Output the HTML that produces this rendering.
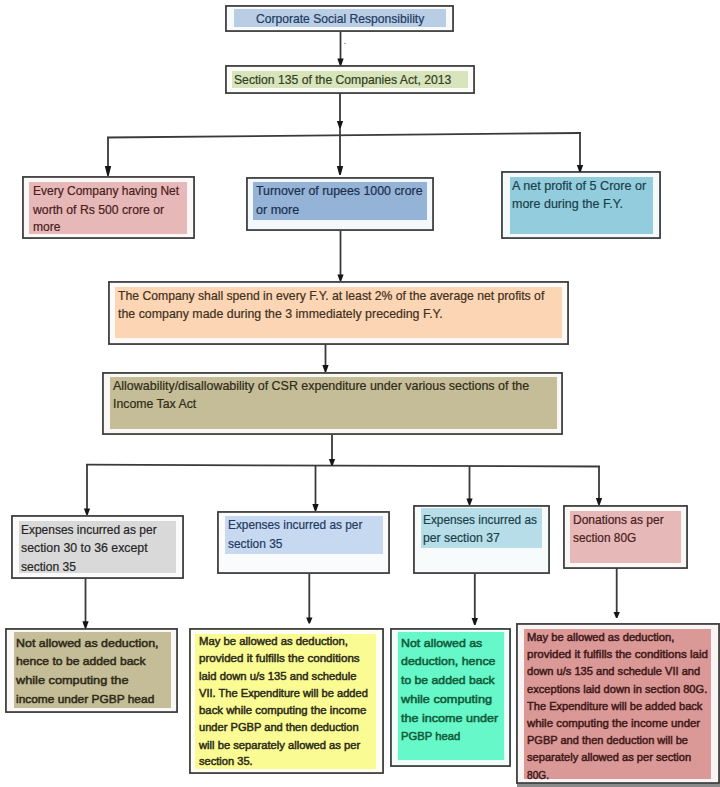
<!DOCTYPE html>
<html><head><meta charset="utf-8"><style>
html,body{margin:0;padding:0;background:#fff;}
body{width:720px;height:787px;position:relative;overflow:hidden;font-family:"Liberation Sans",sans-serif;}
.o{position:absolute;box-sizing:border-box;background:#fff;}
.i{position:absolute;}
.t{position:absolute;white-space:pre;font-weight:normal;transform-origin:0 0;line-height:20px;height:20px;}
svg{position:absolute;left:0;top:0;}
</style></head><body>

<div class="o" style="left:225px;top:5px;width:229px;height:27px;background:#f8fafc"></div>
<div class="i" style="left:234px;top:9px;width:212px;height:18px;background:#b9cde5"></div>
<div class="t" style="left:255.6px;top:8.57px;font-size:12.2px;color:#1f3a5f;-webkit-text-stroke:0.2px #1f3a5f;transform:scaleX(0.9934)">Corporate Social Responsibility</div>
<div class="o" style="left:225px;top:65px;width:250px;height:29px;background:#fbfcf8"></div>
<div class="i" style="left:232px;top:71px;width:236px;height:17px;background:#d8e4bc"></div>
<div class="t" style="left:234.2px;top:70.27px;font-size:12.2px;color:#333d22;-webkit-text-stroke:0.2px #333d22;transform:scaleX(0.9991)">Section 135 of the Companies Act, 2013</div>
<div class="o" style="left:22px;top:176px;width:173px;height:63px;background:#fcf8f7"></div>
<div class="i" style="left:29px;top:182px;width:158px;height:52px;background:#e6b9b8"></div>
<div class="t" style="left:32.5px;top:180.77px;font-size:12.2px;color:#4a2020;-webkit-text-stroke:0.2px #4a2020;transform:scaleX(0.9849)">Every Company having Net</div>
<div class="t" style="left:32.5px;top:199.52px;font-size:12.2px;color:#4a2020;-webkit-text-stroke:0.2px #4a2020;transform:scaleX(1.0030)">worth of Rs 500 crore or</div>
<div class="t" style="left:32.5px;top:216.77px;font-size:12.2px;color:#4a2020;-webkit-text-stroke:0.2px #4a2020;transform:scaleX(0.9895)">more</div>
<div class="o" style="left:246px;top:177px;width:188px;height:54px;background:#f4f7fb"></div>
<div class="i" style="left:253px;top:182px;width:174px;height:38px;background:#95b3d7"></div>
<div class="t" style="left:256.0px;top:180.77px;font-size:12.2px;color:#1a2f4d;-webkit-text-stroke:0.2px #1a2f4d;transform:scaleX(1.0145)">Turnover of rupees 1000 crore</div>
<div class="t" style="left:256.0px;top:199.77px;font-size:12.2px;color:#1a2f4d;-webkit-text-stroke:0.2px #1a2f4d;transform:scaleX(1.0302)">or more</div>
<div class="o" style="left:501px;top:171px;width:160px;height:68px;background:#f4fafb"></div>
<div class="i" style="left:510px;top:177px;width:143px;height:57px;background:#93cddd"></div>
<div class="t" style="left:511.7px;top:175.77px;font-size:12.2px;color:#1a3f4a;-webkit-text-stroke:0.2px #1a3f4a;transform:scaleX(1.0316)">A net profit of 5 Crore or</div>
<div class="t" style="left:511.7px;top:194.07px;font-size:12.2px;color:#1a3f4a;-webkit-text-stroke:0.2px #1a3f4a;transform:scaleX(1.0252)">more during the F.Y.</div>
<div class="o" style="left:108px;top:281px;width:461px;height:64px;background:#fefaf7"></div>
<div class="i" style="left:115px;top:287px;width:447px;height:51px;background:#fcd5b5"></div>
<div class="t" style="left:118.3px;top:285.77px;font-size:12.2px;color:#3f3020;-webkit-text-stroke:0.2px #3f3020;transform:scaleX(1.0009)">The Company shall spend in every F.Y. at least 2% of the average net profits of</div>
<div class="t" style="left:118.3px;top:304.07px;font-size:12.2px;color:#3f3020;-webkit-text-stroke:0.2px #3f3020;transform:scaleX(1.0161)">the company made during the 3 immediately preceding F.Y.</div>
<div class="o" style="left:102px;top:372px;width:461px;height:63px;background:#f9f8f4"></div>
<div class="i" style="left:110px;top:377px;width:447px;height:52px;background:#c4bd97"></div>
<div class="t" style="left:112.7px;top:375.77px;font-size:12.2px;color:#2f2b18;-webkit-text-stroke:0.2px #2f2b18;transform:scaleX(1.0223)">Allowability/disallowability of CSR expenditure under various sections of the</div>
<div class="t" style="left:112.7px;top:394.07px;font-size:12.2px;color:#2f2b18;-webkit-text-stroke:0.2px #2f2b18;transform:scaleX(1.0097)">Income Tax Act</div>
<div class="o" style="left:11px;top:515px;width:173px;height:64px;background:#fbfbfb"></div>
<div class="i" style="left:19px;top:521px;width:157px;height:52px;background:#d9d9d9"></div>
<div class="t" style="left:21.2px;top:519.52px;font-size:12.2px;color:#262626;-webkit-text-stroke:0.2px #262626;transform:scaleX(0.9813)">Expenses incurred as per</div>
<div class="t" style="left:21.2px;top:537.77px;font-size:12.2px;color:#262626;-webkit-text-stroke:0.2px #262626;transform:scaleX(1.0103)">section 30 to 36 except</div>
<div class="t" style="left:21.2px;top:556.77px;font-size:12.2px;color:#262626;-webkit-text-stroke:0.2px #262626;transform:scaleX(0.9890)">section 35</div>
<div class="o" style="left:217px;top:511px;width:173px;height:63px;background:#f9fbfd"></div>
<div class="i" style="left:225px;top:516px;width:158px;height:38px;background:#c6d9f1"></div>
<div class="t" style="left:228.0px;top:514.52px;font-size:12.2px;color:#1f3a5f;-webkit-text-stroke:0.2px #1f3a5f;transform:scaleX(0.9723)">Expenses incurred as per</div>
<div class="t" style="left:228.0px;top:533.77px;font-size:12.2px;color:#1f3a5f;-webkit-text-stroke:0.2px #1f3a5f;transform:scaleX(0.9800)">section 35</div>
<div class="o" style="left:413px;top:505px;width:137px;height:69px;background:#f7fbfc"></div>
<div class="i" style="left:421px;top:508px;width:121px;height:40px;background:#b7dee8"></div>
<div class="t" style="left:423.0px;top:509.52px;font-size:12.2px;color:#1a3f4a;-webkit-text-stroke:0.2px #1a3f4a;transform:scaleX(0.9718)">Expenses incurred as</div>
<div class="t" style="left:423.0px;top:528.27px;font-size:12.2px;color:#1a3f4a;-webkit-text-stroke:0.2px #1a3f4a;transform:scaleX(1.0035)">per section 37</div>
<div class="o" style="left:563px;top:505px;width:125px;height:64px;background:#fcf8f7"></div>
<div class="i" style="left:570px;top:511px;width:111px;height:52px;background:#e6b9b8"></div>
<div class="t" style="left:573.0px;top:509.52px;font-size:12.2px;color:#4a2020;-webkit-text-stroke:0.2px #4a2020;transform:scaleX(0.9840)">Donations as per</div>
<div class="t" style="left:573.0px;top:527.77px;font-size:12.2px;color:#4a2020;-webkit-text-stroke:0.2px #4a2020;transform:scaleX(0.9716)">section 80G</div>
<div class="o" style="left:5px;top:628px;width:173px;height:85px;background:#f9f8f4"></div>
<div class="i" style="left:14px;top:632px;width:157px;height:76px;background:#c4bd97"></div>
<div class="t" style="left:15.5px;top:632.62px;font-size:11.5px;color:#2f2b18;-webkit-text-stroke:0.5px #2f2b18;transform:scaleX(1.0821)">Not allowed as deduction,</div>
<div class="t" style="left:15.5px;top:651.32px;font-size:11.5px;color:#2f2b18;-webkit-text-stroke:0.5px #2f2b18;transform:scaleX(1.0549)">hence to be added back</div>
<div class="t" style="left:15.5px;top:670.22px;font-size:11.5px;color:#2f2b18;-webkit-text-stroke:0.5px #2f2b18;transform:scaleX(1.1069)">while computing the</div>
<div class="t" style="left:15.5px;top:689.02px;font-size:11.5px;color:#2f2b18;-webkit-text-stroke:0.5px #2f2b18;transform:scaleX(1.0364)">income under PGBP head</div>
<div class="o" style="left:189px;top:628px;width:195px;height:146px;background:#fefef4"></div>
<div class="i" style="left:195px;top:634px;width:181px;height:135px;background:#fbfb94"></div>
<div class="t" style="left:199.0px;top:631.93px;font-size:10.3px;color:#2b2b18;-webkit-text-stroke:0.45px #2b2b18;transform:scaleX(1.0981)">May be allowed as deduction,</div>
<div class="t" style="left:199.0px;top:649.33px;font-size:10.3px;color:#2b2b18;-webkit-text-stroke:0.45px #2b2b18;transform:scaleX(1.1273)">provided it fulfills the conditions</div>
<div class="t" style="left:199.0px;top:666.53px;font-size:10.3px;color:#2b2b18;-webkit-text-stroke:0.45px #2b2b18;transform:scaleX(1.0922)">laid down u/s 135 and schedule</div>
<div class="t" style="left:199.0px;top:683.63px;font-size:10.3px;color:#2b2b18;-webkit-text-stroke:0.45px #2b2b18;transform:scaleX(1.0779)">VII. The Expenditure will be added</div>
<div class="t" style="left:199.0px;top:701.23px;font-size:10.3px;color:#2b2b18;-webkit-text-stroke:0.45px #2b2b18;transform:scaleX(1.1034)">back while computing the income</div>
<div class="t" style="left:199.0px;top:717.83px;font-size:10.3px;color:#2b2b18;-webkit-text-stroke:0.45px #2b2b18;transform:scaleX(1.0782)">under PGBP and then deduction</div>
<div class="t" style="left:199.0px;top:735.53px;font-size:10.3px;color:#2b2b18;-webkit-text-stroke:0.45px #2b2b18;transform:scaleX(1.0878)">will be separately allowed as per</div>
<div class="t" style="left:199.0px;top:752.43px;font-size:10.3px;color:#2b2b18;-webkit-text-stroke:0.45px #2b2b18;transform:scaleX(1.0781)">section 35.</div>
<div class="o" style="left:390px;top:628px;width:121px;height:139px;background:#effef9"></div>
<div class="i" style="left:398px;top:632px;width:106px;height:128px;background:#66f8c8"></div>
<div class="t" style="left:400.7px;top:632.62px;font-size:11.5px;color:#125a3a;-webkit-text-stroke:0.5px #125a3a;transform:scaleX(1.0779)">Not allowed as</div>
<div class="t" style="left:400.7px;top:651.12px;font-size:11.5px;color:#125a3a;-webkit-text-stroke:0.5px #125a3a;transform:scaleX(1.0789)">deduction, hence</div>
<div class="t" style="left:400.7px;top:669.62px;font-size:11.5px;color:#125a3a;-webkit-text-stroke:0.5px #125a3a;transform:scaleX(1.0620)">to be added back</div>
<div class="t" style="left:400.7px;top:688.92px;font-size:11.5px;color:#125a3a;-webkit-text-stroke:0.5px #125a3a;transform:scaleX(1.1036)">while computing</div>
<div class="t" style="left:400.7px;top:708.22px;font-size:11.5px;color:#125a3a;-webkit-text-stroke:0.5px #125a3a;transform:scaleX(1.0951)">the income under</div>
<div class="t" style="left:400.7px;top:726.42px;font-size:11.5px;color:#125a3a;-webkit-text-stroke:0.5px #125a3a;transform:scaleX(0.9798)">PGBP head</div>
<div class="o" style="left:516px;top:623px;width:204px;height:161px;background:#fbf4f4"></div>
<div class="i" style="left:524px;top:629px;width:187px;height:150px;background:#da9896"></div>
<div class="t" style="left:526.9px;top:627.73px;font-size:10.3px;color:#3f1818;-webkit-text-stroke:0.45px #3f1818;transform:scaleX(1.0856)">May be allowed as deduction,</div>
<div class="t" style="left:526.9px;top:644.53px;font-size:10.3px;color:#3f1818;-webkit-text-stroke:0.45px #3f1818;transform:scaleX(1.1205)">provided it fulfills the conditions laid</div>
<div class="t" style="left:526.9px;top:661.93px;font-size:10.3px;color:#3f1818;-webkit-text-stroke:0.45px #3f1818;transform:scaleX(1.0764)">down u/s 135 and schedule VII and</div>
<div class="t" style="left:526.9px;top:679.83px;font-size:10.3px;color:#3f1818;-webkit-text-stroke:0.45px #3f1818;transform:scaleX(1.0785)">exceptions laid down in section 80G.</div>
<div class="t" style="left:526.9px;top:697.23px;font-size:10.3px;color:#3f1818;-webkit-text-stroke:0.45px #3f1818;transform:scaleX(1.0749)">The Expenditure will be added back</div>
<div class="t" style="left:526.9px;top:714.03px;font-size:10.3px;color:#3f1818;-webkit-text-stroke:0.45px #3f1818;transform:scaleX(1.1082)">while computing the income under</div>
<div class="t" style="left:526.9px;top:731.43px;font-size:10.3px;color:#3f1818;-webkit-text-stroke:0.45px #3f1818;transform:scaleX(1.0705)">PGBP and then deduction will be</div>
<div class="t" style="left:526.9px;top:748.33px;font-size:10.3px;color:#3f1818;-webkit-text-stroke:0.45px #3f1818;transform:scaleX(1.0776)">separately allowed as per section</div>
<div class="t" style="left:526.9px;top:765.83px;font-size:10.3px;color:#3f1818;-webkit-text-stroke:0.45px #3f1818;transform:scaleX(0.9853)">80G.</div>
<div style="position:absolute;left:517px;top:784px;width:203px;height:3px;background:#8a8a8a"></div>
<svg width="720" height="787" viewBox="0 0 720 787">
<rect x="225.95" y="5.95" width="227.1" height="25.1" fill="none" stroke="#353535" stroke-width="1.7"/>
<rect x="225.95" y="65.95" width="248.1" height="27.1" fill="none" stroke="#353535" stroke-width="1.7"/>
<rect x="22.95" y="176.95" width="171.1" height="61.1" fill="none" stroke="#353535" stroke-width="1.7"/>
<rect x="246.95" y="177.95" width="186.1" height="52.1" fill="none" stroke="#353535" stroke-width="1.7"/>
<rect x="501.95" y="171.95" width="158.1" height="66.1" fill="none" stroke="#353535" stroke-width="1.7"/>
<rect x="108.95" y="281.95" width="459.1" height="62.1" fill="none" stroke="#353535" stroke-width="1.7"/>
<rect x="102.95" y="372.95" width="459.1" height="61.1" fill="none" stroke="#353535" stroke-width="1.7"/>
<rect x="11.95" y="515.95" width="171.1" height="62.1" fill="none" stroke="#353535" stroke-width="1.7"/>
<rect x="217.95" y="511.95" width="171.1" height="61.1" fill="none" stroke="#353535" stroke-width="1.7"/>
<rect x="413.95" y="505.95" width="135.1" height="67.1" fill="none" stroke="#353535" stroke-width="1.7"/>
<rect x="563.95" y="505.95" width="123.1" height="62.1" fill="none" stroke="#353535" stroke-width="1.7"/>
<rect x="5.95" y="628.95" width="171.1" height="83.1" fill="none" stroke="#353535" stroke-width="1.7"/>
<rect x="189.95" y="628.95" width="193.1" height="144.1" fill="none" stroke="#353535" stroke-width="1.7"/>
<rect x="390.95" y="628.95" width="119.1" height="137.1" fill="none" stroke="#353535" stroke-width="1.7"/>
<rect x="516.95" y="623.95" width="202.1" height="159.1" fill="none" stroke="#353535" stroke-width="1.7"/>
<line x1="340.5" y1="32" x2="340.5" y2="60" stroke="#3a3a3a" stroke-width="1.8"/>
<line x1="340" y1="93" x2="340" y2="135" stroke="#3a3a3a" stroke-width="1.8"/>
<line x1="108" y1="137.5" x2="108" y2="168" stroke="#3a3a3a" stroke-width="1.8"/>
<line x1="340" y1="135" x2="340" y2="168" stroke="#3a3a3a" stroke-width="1.8"/>
<line x1="580" y1="133" x2="580" y2="167" stroke="#3a3a3a" stroke-width="1.8"/>
<line x1="340.5" y1="231" x2="340.5" y2="276" stroke="#3a3a3a" stroke-width="1.8"/>
<line x1="325.5" y1="344" x2="325.5" y2="366" stroke="#3a3a3a" stroke-width="1.8"/>
<line x1="332" y1="435" x2="332" y2="460" stroke="#3a3a3a" stroke-width="1.8"/>
<line x1="87" y1="464.7" x2="87" y2="510" stroke="#3a3a3a" stroke-width="1.8"/>
<line x1="315.5" y1="465" x2="315.5" y2="505" stroke="#3a3a3a" stroke-width="1.8"/>
<line x1="469.5" y1="466" x2="469.5" y2="500" stroke="#3a3a3a" stroke-width="1.8"/>
<line x1="599" y1="466.3" x2="599" y2="500" stroke="#3a3a3a" stroke-width="1.8"/>
<line x1="85.5" y1="578" x2="85.5" y2="622" stroke="#3a3a3a" stroke-width="1.8"/>
<line x1="309.3" y1="574" x2="309.3" y2="618" stroke="#3a3a3a" stroke-width="1.8"/>
<line x1="474.8" y1="574" x2="474.8" y2="619" stroke="#3a3a3a" stroke-width="1.8"/>
<line x1="616.7" y1="568" x2="616.7" y2="613" stroke="#3a3a3a" stroke-width="1.8"/>
<line x1="107" y1="137.5" x2="581" y2="133" stroke="#3a3a3a" stroke-width="1.8"/>
<line x1="86" y1="464.7" x2="600" y2="466.5" stroke="#3a3a3a" stroke-width="1.8"/>
<polygon points="337.35,58.5 343.65,58.5 341.20,65.5 339.80,65.5" fill="#151515"/>
<polygon points="336.85,121 343.15,121 340.70,128 339.30,128" fill="#151515"/>
<polygon points="104.85,166 111.15,166 108.70,176 107.30,176" fill="#151515"/>
<polygon points="336.85,166 343.15,166 340.70,175 339.30,175" fill="#151515"/>
<polygon points="576.85,165 583.15,165 580.70,172 579.30,172" fill="#151515"/>
<polygon points="337.35,274.6 343.65,274.6 341.20,281 339.80,281" fill="#151515"/>
<polygon points="322.35,365 328.65,365 326.20,372 324.80,372" fill="#151515"/>
<polygon points="328.85,459 335.15,459 332.70,465.5 331.30,465.5" fill="#151515"/>
<polygon points="83.85,508.6 90.15,508.6 87.70,515 86.30,515" fill="#151515"/>
<polygon points="312.35,504 318.65,504 316.20,511 314.80,511" fill="#151515"/>
<polygon points="466.35,498.6 472.65,498.6 470.20,505 468.80,505" fill="#151515"/>
<polygon points="595.85,498 602.15,498 599.70,505 598.30,505" fill="#151515"/>
<polygon points="82.35,621.2 88.65,621.2 86.20,628.3 84.80,628.3" fill="#151515"/>
<polygon points="306.15,617.4 312.45,617.4 310.00,623.6 308.60,623.6" fill="#151515"/>
<polygon points="471.65,617.9 477.95,617.9 475.50,625 474.10,625" fill="#151515"/>
<polygon points="613.55,611.9 619.85,611.9 617.40,618.1 616.00,618.1" fill="#151515"/>
<circle cx="345" cy="43.5" r="0.8" fill="#888"/>
</svg>
</body></html>
